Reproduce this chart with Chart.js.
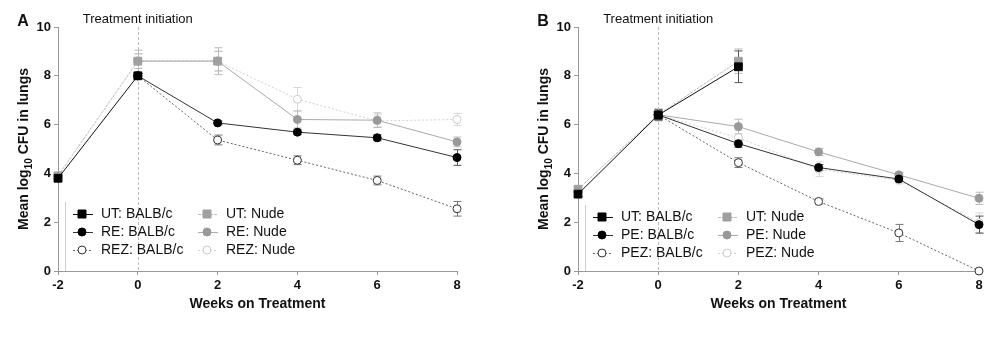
<!DOCTYPE html>
<html>
<head>
<meta charset="utf-8">
<script src="https://cdn.jsdelivr.net/npm/chart.js@4.4.1/dist/chart.umd.min.js"></script>
<style>
  body { margin: 0; background: #fff; }
  .row { display: flex; }
  canvas { display: block; }
</style>
</head>
<body>
<div class="row">
  <canvas id="chartA" width="500" height="346"></canvas>
  <canvas id="chartB" width="500" height="346"></canvas>
</div>
<script>
// weeks on treatment (x values)
var weeks = [-2, 0, 2, 4, 6, 8];

// Panel A: mean log10 CFU, and error (SD)
var utBalbA   = [3.8, 8.0, null, null, null, null];
var utBalbAErr = [0.1, 0.1, null, null, null, null];
var reBalbA   = [null, 8.0, 6.07, 5.69, 5.46, 4.65];
var reBalbAErr = [null, 0.1, 0.08, 0.1, 0.12, 0.32];
var rezBalbA  = [null, 8.0, 5.37, 4.54, 3.71, 2.55];
var rezBalbAErr = [null, 0.1, 0.2, 0.18, 0.18, 0.3];
var utNudeA   = [3.9, 8.6, 8.6, null, null, null];
var utNudeAErr = [0.1, 0.45, 0.55, null, null, null];
var reNudeA   = [null, 8.6, 8.6, 6.21, 6.18, 5.29];
var reNudeAErr = [null, 0.3, 0.4, 0.35, 0.3, 0.2];
var rezNudeA  = [null, 8.6, 8.6, 7.04, 6.15, 6.21];
var rezNudeAErr = [null, 0.3, 0.4, 0.48, 0.25, 0.25];

// Panel B
var utBalbB   = [3.15, 6.39, 8.37, null, null, null];
var utBalbBErr = [0.1, 0.2, 0.65, null, null, null];
var peBalbB   = [null, 6.4, 5.22, 4.24, 3.77, 1.9];
var peBalbBErr = [null, 0.2, 0.15, 0.12, 0.1, 0.35];
var pezBalbB  = [null, 6.4, 4.44, 2.85, 1.56, 0];
var pezBalbBErr = [null, 0.2, 0.2, 0.1, 0.35, 0];
var utNudeB   = [3.35, 6.4, 8.6, null, null, null];
var utNudeBErr = [0.15, 0.25, 0.5, null, null, null];
var peNudeB   = [null, 6.4, 5.92, 4.88, 3.94, 2.98];
var peNudeBErr = [null, 0.2, 0.3, 0.15, 0.1, 0.25];
var pezNudeB  = [null, 6.4, 5.46, 4.17, 3.72, 1.98];
var pezNudeBErr = [null, 0.2, 0.3, 0.3, 0.15, 0.4];

var FONT = "'Liberation Sans', Arial, sans-serif";

function pts(vals, errs) {
  var out = [];
  for (var i = 0; i < weeks.length; i++) {
    if (vals[i] !== null) out.push({x: weeks[i], y: vals[i], e: errs[i] || 0});
  }
  return out;
}

// series styles (black BALB/c, grey Nude)
var styles = [
  {style: 'rect',   radius: 5.5, fill: '#000', border: '#000', line: '#111', dash: [],     bar: '#555'},
  {style: 'circle', radius: 4,   fill: '#000', border: '#000', line: '#333', dash: [],     bar: '#555'},
  {style: 'circle', radius: 4,   fill: '#fff', border: '#333', line: '#666', dash: [2, 2], bar: '#777'},
  {style: 'rect',   radius: 5.5, fill: '#a0a0a0', border: '#a0a0a0', line: '#bbb', dash: [3, 1], bar: '#bbb'},
  {style: 'circle', radius: 4,   fill: '#999', border: '#999', line: '#aaa', dash: [],     bar: '#bbb'},
  {style: 'circle', radius: 4,   fill: '#fff', border: '#ccc', line: '#d0d0d0', dash: [2, 2], bar: '#d8d8d8'}
];

function makeDatasets(labels, series) {
  return series.map(function (s, i) {
    var st = styles[i];
    return {
      label: labels[i],
      data: pts(s[0], s[1]),
      borderColor: st.line,
      borderWidth: 1,
      borderDash: st.dash,
      pointStyle: st.style,
      pointRadius: st.radius,
      pointBackgroundColor: st.fill,
      pointBorderColor: st.border,
      pointBorderWidth: 1,
      barColor: st.bar,
      tension: 0,
      clip: false
    };
  });
}

var errorBars = {
  id: 'errorBars',
  beforeDatasetsDraw: function (chart) {
    var ctx = chart.ctx, ys = chart.scales.y;
    ctx.save();
    ctx.lineWidth = 1;
    for (var i = chart.data.datasets.length - 1; i >= 0; i--) {
      var ds = chart.data.datasets[i];
      var meta = chart.getDatasetMeta(i);
      ctx.strokeStyle = ds.barColor;
      meta.data.forEach(function (el, j) {
        var e = ds.data[j].e;
        if (!e) return;
        var x = Math.round(el.x) + 0.5;
        var t = ys.getPixelForValue(ds.data[j].y + e);
        var b = ys.getPixelForValue(ds.data[j].y - e);
        ctx.beginPath();
        ctx.moveTo(x, t); ctx.lineTo(x, b);
        ctx.moveTo(x - 4, t); ctx.lineTo(x + 4, t);
        ctx.moveTo(x - 4, b); ctx.lineTo(x + 4, b);
        ctx.stroke();
      });
    }
    ctx.restore();
  }
};

var decorations = {
  id: 'decorations',
  beforeDatasetsDraw: function (chart) {
    var ctx = chart.ctx, a = chart.chartArea;
    var x0 = Math.round(chart.scales.x.getPixelForValue(0)) + 0.5;
    ctx.save();
    ctx.strokeStyle = '#bbb';
    ctx.setLineDash([3, 2]);
    ctx.lineWidth = 1;
    ctx.beginPath();
    ctx.moveTo(x0, a.top);
    ctx.lineTo(x0, a.bottom);
    ctx.stroke();
    ctx.restore();
  },
  afterDraw: function (chart) {
    var ctx = chart.ctx, a = chart.chartArea;
    var opts = chart.options.plugins.decorations;
    var x0 = chart.scales.x.getPixelForValue(0);
    ctx.save();
    // treatment initiation label
    ctx.fillStyle = '#111';
    ctx.font = '13px ' + FONT;
    ctx.textAlign = 'center';
    ctx.textBaseline = 'middle';
    ctx.fillText('Treatment initiation', x0, 19);
    // panel letter
    ctx.font = 'bold 16px ' + FONT;
    ctx.fillText(opts.letter, a.left - 35, 22);

    // y axis title with subscript
    var cx = a.left - 35, cy = (a.top + a.bottom) / 2;
    ctx.translate(cx, cy);
    ctx.rotate(-Math.PI / 2);
    ctx.textAlign = 'left';
    ctx.textBaseline = 'alphabetic';
    var p1 = 'Mean log', p2 = '10', p3 = ' CFU in lungs';
    ctx.font = 'bold 14px ' + FONT;
    var w1 = ctx.measureText(p1).width, w3 = ctx.measureText(p3).width;
    ctx.font = 'bold 10px ' + FONT;
    var w2 = ctx.measureText(p2).width;
    var sx = -(w1 + w2 + w3) / 2;
    ctx.font = 'bold 14px ' + FONT;
    ctx.fillText(p1, sx, 5);
    ctx.font = 'bold 10px ' + FONT;
    ctx.fillText(p2, sx + w1, 9);
    ctx.font = 'bold 14px ' + FONT;
    ctx.fillText(p3, sx + w1 + w2, 5);
    ctx.restore();

    // legend: two columns, three rows
    ctx.save();
    ctx.strokeStyle = '#ccc';
    ctx.lineWidth = 1;
    ctx.beginPath();
    ctx.moveTo(a.left + 7.5, opts.legendTop - 12);
    ctx.lineTo(a.left + 7.5, a.bottom);
    ctx.stroke();
    ctx.font = '14px ' + FONT;
    ctx.textBaseline = 'middle';
    ctx.textAlign = 'left';
    chart.data.datasets.forEach(function (ds, i) {
      var col = i < 3 ? 0 : 1, row = i % 3;
      var y = opts.legendTop + row * 18;
      var lx = a.left + (col === 0 ? 15 : 140);
      var mx = a.left + (col === 0 ? 24 : 149);
      var tx = a.left + (col === 0 ? 43 : 168);
      ctx.strokeStyle = ds.borderColor;
      ctx.setLineDash(ds.borderDash);
      ctx.beginPath();
      ctx.moveTo(lx, y + 0.5);
      ctx.lineTo(lx + 20, y + 0.5);
      ctx.stroke();
      ctx.setLineDash([]);
      ctx.fillStyle = ds.pointBackgroundColor;
      ctx.strokeStyle = ds.pointBorderColor;
      ctx.beginPath();
      if (ds.pointStyle === 'rect') {
        ctx.rect(mx - 4, y - 4, 8, 8);
      } else {
        ctx.arc(mx, y, 4, 0, Math.PI * 2);
      }
      ctx.fill();
      ctx.stroke();
      ctx.fillStyle = '#111';
      ctx.fillText(ds.label, tx, y);
    });
    ctx.restore();
  }
};

function makeChart(id, labels, series, letter, yWidth, padRight, legendTop) {
  return new Chart(document.getElementById(id), {
    type: 'line',
    data: {datasets: makeDatasets(labels, series)},
    options: {
      responsive: false,
      animation: false,
      events: [],
      layout: {padding: {top: 27, right: padRight, left: 0, bottom: 0}},
      scales: {
        x: {
          type: 'linear',
          min: -2, max: 8,
          ticks: {stepSize: 2, color: '#111', font: {family: FONT, size: 13, weight: 'bold'}, padding: 3},
          grid: {display: true, drawOnChartArea: false, drawTicks: true, tickLength: 4, color: '#999'},
          border: {color: '#999'},
          title: {display: true, text: 'Weeks on Treatment', color: '#111',
                  font: {family: FONT, size: 14, weight: 'bold'}, padding: {bottom: 33}},
          afterFit: function (s) { s.height = 75; }
        },
        y: {
          min: 0, max: 10,
          ticks: {stepSize: 2, color: '#111', font: {family: FONT, size: 13, weight: 'bold'}, padding: 3},
          grid: {display: true, drawOnChartArea: false, drawTicks: true, tickLength: 4, color: '#999'},
          border: {color: '#999'},
          afterFit: function (s) { s.width = yWidth; }
        }
      },
      plugins: {
        legend: {display: false},
        tooltip: {enabled: false},
        decorations: {letter: letter, legendTop: legendTop}
      }
    },
    plugins: [errorBars, decorations]
  });
}

makeChart('chartA',
  ['UT: BALB/c', 'RE: BALB/c', 'REZ: BALB/c', 'UT: Nude', 'RE: Nude', 'REZ: Nude'],
  [[utBalbA, utBalbAErr], [reBalbA, reBalbAErr], [rezBalbA, rezBalbAErr],
   [utNudeA, utNudeAErr], [reNudeA, reNudeAErr], [rezNudeA, rezNudeAErr]],
  'A', 58, 43, 214);

makeChart('chartB',
  ['UT: BALB/c', 'PE: BALB/c', 'PEZ: BALB/c', 'UT: Nude', 'PE: Nude', 'PEZ: Nude'],
  [[utBalbB, utBalbBErr], [peBalbB, peBalbBErr], [pezBalbB, pezBalbBErr],
   [utNudeB, utNudeBErr], [peNudeB, peNudeBErr], [pezNudeB, pezNudeBErr]],
  'B', 78, 21, 217);
</script>
</body>
</html>
